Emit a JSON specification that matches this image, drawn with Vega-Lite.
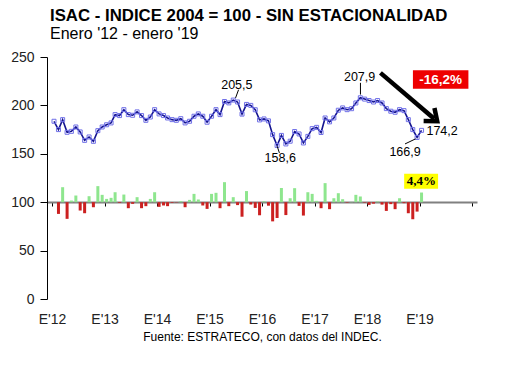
{
  "$schema": "https://vega.github.io/schema/vega-lite/v6.json",
  "width": 430,
  "height": 242,
  "autosize": {"type": "none"},
  "padding": {"left": 47, "top": 57, "right": 53, "bottom": 79},
  "background": "white",
  "config": {"view": {"stroke": null}, "font": "Liberation Sans"},
  "title": {
    "text": "ISAC - INDICE 2004 = 100 - SIN ESTACIONALIDAD",
    "subtitle": "Enero '12 - enero '19",
    "anchor": "start",
    "frame": "group",
    "dx": 3,
    "offset": 8,
    "font": "Liberation Sans",
    "fontSize": 16.8,
    "fontWeight": "bold",
    "color": "black",
    "subtitleFont": "Liberation Sans",
    "subtitleFontSize": 16,
    "subtitleColor": "black",
    "subtitlePadding": 1
  },
  "datasets": {
    "serie": [
      {"date": "2012-01-15", "v": 183.6}, {"date": "2012-02-15", "v": 175.0}, {"date": "2012-03-15", "v": 185.3}, {"date": "2012-04-15", "v": 172.2},
      {"date": "2012-05-15", "v": 173.2}, {"date": "2012-06-15", "v": 177.7}, {"date": "2012-07-15", "v": 172.6}, {"date": "2012-08-15", "v": 163.9},
      {"date": "2012-09-15", "v": 167.4}, {"date": "2012-10-15", "v": 162.9}, {"date": "2012-11-15", "v": 173.9}, {"date": "2012-12-15", "v": 177.7},
      {"date": "2013-01-15", "v": 180.0}, {"date": "2013-02-15", "v": 181.9}, {"date": "2013-03-15", "v": 190.5}, {"date": "2013-04-15", "v": 189.5},
      {"date": "2013-05-15", "v": 195.6}, {"date": "2013-06-15", "v": 190.5}, {"date": "2013-07-15", "v": 189.8}, {"date": "2013-08-15", "v": 193.3},
      {"date": "2013-09-15", "v": 189.5}, {"date": "2013-10-15", "v": 184.6}, {"date": "2013-11-15", "v": 188.0}, {"date": "2013-12-15", "v": 195.6},
      {"date": "2014-01-15", "v": 191.2}, {"date": "2014-02-15", "v": 189.5}, {"date": "2014-03-15", "v": 187.0}, {"date": "2014-04-15", "v": 185.3},
      {"date": "2014-05-15", "v": 184.6}, {"date": "2014-06-15", "v": 186.3}, {"date": "2014-07-15", "v": 181.9}, {"date": "2014-08-15", "v": 183.6},
      {"date": "2014-09-15", "v": 188.8}, {"date": "2014-10-15", "v": 191.2}, {"date": "2014-11-15", "v": 188.8}, {"date": "2014-12-15", "v": 182.6},
      {"date": "2015-01-15", "v": 188.8}, {"date": "2015-02-15", "v": 195.6}, {"date": "2015-03-15", "v": 190.5}, {"date": "2015-04-15", "v": 204.0},
      {"date": "2015-05-15", "v": 202.6}, {"date": "2015-06-15", "v": 205.5}, {"date": "2015-07-15", "v": 203.5}, {"date": "2015-08-15", "v": 191.0},
      {"date": "2015-09-15", "v": 201.0}, {"date": "2015-10-15", "v": 200.0}, {"date": "2015-11-15", "v": 195.5}, {"date": "2015-12-15", "v": 185.0},
      {"date": "2016-01-15", "v": 186.0}, {"date": "2016-02-15", "v": 184.0}, {"date": "2016-03-15", "v": 169.8}, {"date": "2016-04-15", "v": 158.6},
      {"date": "2016-05-15", "v": 169.0}, {"date": "2016-06-15", "v": 160.2}, {"date": "2016-07-15", "v": 163.0}, {"date": "2016-08-15", "v": 173.0},
      {"date": "2016-09-15", "v": 170.5}, {"date": "2016-10-15", "v": 161.2}, {"date": "2016-11-15", "v": 168.0}, {"date": "2016-12-15", "v": 176.0},
      {"date": "2017-01-15", "v": 177.3}, {"date": "2017-02-15", "v": 172.0}, {"date": "2017-03-15", "v": 187.0}, {"date": "2017-04-15", "v": 183.0},
      {"date": "2017-05-15", "v": 187.0}, {"date": "2017-06-15", "v": 195.0}, {"date": "2017-07-15", "v": 197.4}, {"date": "2017-08-15", "v": 195.6},
      {"date": "2017-09-15", "v": 196.6}, {"date": "2017-10-15", "v": 202.5}, {"date": "2017-11-15", "v": 207.9}, {"date": "2017-12-15", "v": 206.5},
      {"date": "2018-01-15", "v": 205.0}, {"date": "2018-02-15", "v": 203.5}, {"date": "2018-03-15", "v": 205.0}, {"date": "2018-04-15", "v": 202.5},
      {"date": "2018-05-15", "v": 196.7}, {"date": "2018-06-15", "v": 194.0}, {"date": "2018-07-15", "v": 192.9}, {"date": "2018-08-15", "v": 195.6},
      {"date": "2018-09-15", "v": 194.6}, {"date": "2018-10-15", "v": 185.3}, {"date": "2018-11-15", "v": 175.0}, {"date": "2018-12-15", "v": 166.9},
      {"date": "2019-01-15", "v": 174.2}
    ],
    "barras": [
      {"date": "2012-02-15", "b": 87.9}, {"date": "2012-03-15", "b": 115.5}, {"date": "2012-04-15", "b": 82.8}, {"date": "2012-05-15", "b": 101.7},
      {"date": "2012-06-15", "b": 106.9}, {"date": "2012-07-15", "b": 91.4}, {"date": "2012-08-15", "b": 88.6}, {"date": "2012-09-15", "b": 106.2},
      {"date": "2012-10-15", "b": 94.8}, {"date": "2012-11-15", "b": 116.6}, {"date": "2012-12-15", "b": 107.6},
      {"date": "2013-01-15", "b": 103.4}, {"date": "2013-02-15", "b": 104.5}, {"date": "2013-03-15", "b": 110.3}, {"date": "2013-04-15", "b": 99.3},
      {"date": "2013-05-15", "b": 107.9}, {"date": "2013-06-15", "b": 93.8}, {"date": "2013-07-15", "b": 98.3}, {"date": "2013-08-15", "b": 105.2},
      {"date": "2013-09-15", "b": 93.8}, {"date": "2013-10-15", "b": 95.9}, {"date": "2013-11-15", "b": 103.4}, {"date": "2013-12-15", "b": 110.3},
      {"date": "2014-01-15", "b": 95.2}, {"date": "2014-02-15", "b": 96.6}, {"date": "2014-03-15", "b": 95.9}, {"date": "2014-04-15", "b": 99.3},
      {"date": "2014-05-15", "b": 99.7}, {"date": "2014-06-15", "b": 101.0}, {"date": "2014-07-15", "b": 94.8}, {"date": "2014-08-15", "b": 102.4},
      {"date": "2014-09-15", "b": 108.6}, {"date": "2014-10-15", "b": 102.8}, {"date": "2014-11-15", "b": 96.6}, {"date": "2014-12-15", "b": 93.1},
      {"date": "2015-01-15", "b": 108.6}, {"date": "2015-02-15", "b": 109.7}, {"date": "2015-03-15", "b": 93.8}, {"date": "2015-04-15", "b": 120.7},
      {"date": "2015-05-15", "b": 95.9}, {"date": "2015-06-15", "b": 105.2}, {"date": "2015-07-15", "b": 97.0}, {"date": "2015-08-15", "b": 85.0},
      {"date": "2015-09-15", "b": 111.5}, {"date": "2015-10-15", "b": 97.6}, {"date": "2015-11-15", "b": 94.1}, {"date": "2015-12-15", "b": 86.5},
      {"date": "2016-01-15", "b": 101.0}, {"date": "2016-02-15", "b": 96.4}, {"date": "2016-03-15", "b": 80.2}, {"date": "2016-04-15", "b": 83.7},
      {"date": "2016-05-15", "b": 114.7}, {"date": "2016-06-15", "b": 86.7}, {"date": "2016-07-15", "b": 104.1}, {"date": "2016-08-15", "b": 114.5},
      {"date": "2016-09-15", "b": 96.2}, {"date": "2016-10-15", "b": 86.2}, {"date": "2016-11-15", "b": 110.3}, {"date": "2016-12-15", "b": 108.6},
      {"date": "2017-01-15", "b": 101.4}, {"date": "2017-02-15", "b": 93.8}, {"date": "2017-03-15", "b": 119.7}, {"date": "2017-04-15", "b": 92.8},
      {"date": "2017-05-15", "b": 104.1}, {"date": "2017-06-15", "b": 109.3}, {"date": "2017-07-15", "b": 103.1}, {"date": "2017-08-15", "b": 99.5},
      {"date": "2017-09-15", "b": 100.3}, {"date": "2017-10-15", "b": 107.6}, {"date": "2017-11-15", "b": 105.9}, {"date": "2017-12-15", "b": 99.5},
      {"date": "2018-01-15", "b": 97.2}, {"date": "2018-02-15", "b": 98.5}, {"date": "2018-03-15", "b": 100.8}, {"date": "2018-04-15", "b": 97.5},
      {"date": "2018-05-15", "b": 91.0}, {"date": "2018-06-15", "b": 98.0}, {"date": "2018-07-15", "b": 92.8}, {"date": "2018-08-15", "b": 104.1},
      {"date": "2018-09-15", "b": 99.0}, {"date": "2018-10-15", "b": 88.6}, {"date": "2018-11-15", "b": 82.4}, {"date": "2018-12-15", "b": 90.3},
      {"date": "2019-01-15", "b": 110.0}
    ],
    "etiquetas": [
      {"date": "2015-07-10", "v": 221.5, "label": "205,5"},
      {"date": "2016-05-07", "v": 145.7, "label": "158,6"},
      {"date": "2017-11-10", "v": 229.6, "label": "207,9"},
      {"date": "2018-09-22", "v": 151.7, "label": "166,9"},
      {"date": "2019-06-07", "v": 174.0, "label": "174,2"}
    ],
    "guias": [
      {"date": "2015-07-01", "v": 207.7, "date2": "2015-07-22", "v2": 216.2},
      {"date": "2016-04-16", "v": 157.7, "date2": "2016-05-01", "v2": 150.9},
      {"date": "2017-11-16", "v": 211.2, "date2": "2017-11-16", "v2": 223.3},
      {"date": "2018-09-22", "v": 160.2, "date2": "2018-12-04", "v2": 165.4}
    ],
    "flecha": [
      {"date": "2018-04-04", "v": 233.6, "date2": "2019-04-13", "v2": 186.2}
    ],
    "punta": [
      {"date": "2019-05-04", "v": 183.6}
    ],
    "caja_roja": [
      {"date": "2018-11-16", "v": 236.3, "date2": "2019-12-07", "v2": 217.1, "cdate": "2019-05-28", "cv": 226.7, "label": "-16,2%"}
    ],
    "caja_amarilla": [
      {"date": "2018-09-16", "v": 129.5, "date2": "2019-05-10", "v2": 114.0, "cdate": "2019-01-13", "cv": 121.7, "label": "4,4%"}
    ]
  },
  "layer": [
    {
      "data": {"name": "barras"},
      "mark": {"type": "bar", "size": 3},
      "encoding": {
        "x": {
          "field": "date", "type": "temporal",
          "scale": {"type": "utc", "domain": [{"year": 2012, "month": 1, "date": 1, "utc": true}, {"year": 2020, "month": 1, "date": 1, "utc": true}]},
          "axis": {
            "orient": "bottom",
            "domain": false,
            "ticks": false,
            "grid": false,
            "values": [
              {"year": 2012, "month": 1, "date": 1, "utc": true}, {"year": 2013, "month": 1, "date": 1, "utc": true},
              {"year": 2014, "month": 1, "date": 1, "utc": true}, {"year": 2015, "month": 1, "date": 1, "utc": true},
              {"year": 2016, "month": 1, "date": 1, "utc": true}, {"year": 2017, "month": 1, "date": 1, "utc": true},
              {"year": 2018, "month": 1, "date": 1, "utc": true}, {"year": 2019, "month": 1, "date": 1, "utc": true}
            ],
            "labelExpr": "\"E'\" + utcFormat(datum.value, '%y')",
            "labelFont": "Liberation Sans",
            "labelFontSize": 14,
            "labelColor": "#222222",
            "labelPadding": 13,
            "labelFlush": false,
            "labelOverlap": false,
            "title": "Fuente: ESTRATECO, con datos del INDEC.",
            "titleFont": "Liberation Sans",
            "titleFontSize": 12,
            "titleFontWeight": "normal",
            "titleColor": "black",
            "titlePadding": 5
          }
        },
        "y": {
          "field": "b", "type": "quantitative",
          "scale": {"domain": [0, 250]},
          "axis": {
            "values": [0, 50, 100, 150, 200, 250],
            "grid": false,
            "domainColor": "black",
            "tickColor": "black",
            "tickSize": 7,
            "labelPadding": 6,
            "labelFont": "Liberation Sans",
            "labelFontSize": 14,
            "labelColor": "#222222",
            "title": null
          }
        },
        "y2": {"datum": 100},
        "color": {
          "condition": {"test": "datum.b >= 100", "value": "#8ee68e"},
          "value": "#cc2020"
        }
      }
    },
    {
      "data": {"name": "serie"},
      "mark": {"type": "line", "color": "#14148f", "strokeWidth": 1.6},
      "encoding": {
        "x": {
          "field": "date", "type": "temporal",
          "scale": {"type": "utc", "domain": [{"year": 2012, "month": 1, "date": 1, "utc": true}, {"year": 2020, "month": 1, "date": 1, "utc": true}]},
          "axis": {
            "orient": "bottom",
            "offset": -97,
            "domain": true,
            "domainColor": "#808080",
            "domainWidth": 2,
            "ticks": true,
            "tickColor": "black",
            "tickSize": 4,
            "labels": false,
            "grid": false,
            "title": null,
            "values": [
              {"year": 2012, "month": 1, "date": 1, "utc": true}, {"year": 2013, "month": 1, "date": 1, "utc": true},
              {"year": 2014, "month": 1, "date": 1, "utc": true}, {"year": 2015, "month": 1, "date": 1, "utc": true},
              {"year": 2016, "month": 1, "date": 1, "utc": true}, {"year": 2017, "month": 1, "date": 1, "utc": true},
              {"year": 2018, "month": 1, "date": 1, "utc": true}, {"year": 2019, "month": 1, "date": 1, "utc": true},
              {"year": 2020, "month": 1, "date": 1, "utc": true}
            ]
          }
        },
        "y": {"field": "v", "type": "quantitative", "scale": {"domain": [0, 250]}, "axis": null}
      }
    },
    {
      "data": {"name": "serie"},
      "mark": {"type": "point", "shape": "square", "size": 16, "filled": false, "stroke": "#7070e8", "strokeWidth": 1, "opacity": 1},
      "encoding": {
        "x": {"field": "date", "type": "temporal", "scale": {"type": "utc", "domain": [{"year": 2012, "month": 1, "date": 1, "utc": true}, {"year": 2020, "month": 1, "date": 1, "utc": true}]}, "axis": null},
        "y": {"field": "v", "type": "quantitative", "scale": {"domain": [0, 250]}, "axis": null}
      }
    },
    {
      "data": {"name": "guias"},
      "mark": {"type": "rule", "color": "black", "strokeWidth": 1},
      "encoding": {
        "x": {"field": "date", "type": "temporal", "scale": {"type": "utc", "domain": [{"year": 2012, "month": 1, "date": 1, "utc": true}, {"year": 2020, "month": 1, "date": 1, "utc": true}]}, "axis": null},
        "x2": {"field": "date2"},
        "y": {"field": "v", "type": "quantitative", "scale": {"domain": [0, 250]}, "axis": null},
        "y2": {"field": "v2"}
      }
    },
    {
      "data": {"name": "flecha"},
      "mark": {"type": "rule", "color": "black", "strokeWidth": 4.5},
      "encoding": {
        "x": {"field": "date", "type": "temporal", "scale": {"type": "utc", "domain": [{"year": 2012, "month": 1, "date": 1, "utc": true}, {"year": 2020, "month": 1, "date": 1, "utc": true}]}, "axis": null},
        "x2": {"field": "date2"},
        "y": {"field": "v", "type": "quantitative", "scale": {"domain": [0, 250]}, "axis": null},
        "y2": {"field": "v2"}
      }
    },
    {
      "data": {"name": "punta"},
      "mark": {"type": "point", "shape": "M-1,-0.8L0,0L-1,0.8", "filled": false, "stroke": "black", "strokeWidth": 4.5, "strokeJoin": "miter", "size": 450, "angle": 39.6, "opacity": 1},
      "encoding": {
        "x": {"field": "date", "type": "temporal", "scale": {"type": "utc", "domain": [{"year": 2012, "month": 1, "date": 1, "utc": true}, {"year": 2020, "month": 1, "date": 1, "utc": true}]}, "axis": null},
        "y": {"field": "v", "type": "quantitative", "scale": {"domain": [0, 250]}, "axis": null}
      }
    },
    {
      "data": {"name": "caja_roja"},
      "mark": {"type": "rect", "color": "#ee0000"},
      "encoding": {
        "x": {"field": "date", "type": "temporal", "scale": {"type": "utc", "domain": [{"year": 2012, "month": 1, "date": 1, "utc": true}, {"year": 2020, "month": 1, "date": 1, "utc": true}]}, "axis": null},
        "x2": {"field": "date2"},
        "y": {"field": "v", "type": "quantitative", "scale": {"domain": [0, 250]}, "axis": null},
        "y2": {"field": "v2"}
      }
    },
    {
      "data": {"name": "caja_roja"},
      "mark": {"type": "text", "color": "white", "font": "Liberation Sans", "fontSize": 13.5, "fontWeight": "bold", "align": "center", "baseline": "middle"},
      "encoding": {
        "x": {"field": "cdate", "type": "temporal", "scale": {"type": "utc", "domain": [{"year": 2012, "month": 1, "date": 1, "utc": true}, {"year": 2020, "month": 1, "date": 1, "utc": true}]}, "axis": null},
        "y": {"field": "cv", "type": "quantitative", "scale": {"domain": [0, 250]}, "axis": null},
        "text": {"field": "label"}
      }
    },
    {
      "data": {"name": "caja_amarilla"},
      "mark": {"type": "rect", "color": "#ffff00"},
      "encoding": {
        "x": {"field": "date", "type": "temporal", "scale": {"type": "utc", "domain": [{"year": 2012, "month": 1, "date": 1, "utc": true}, {"year": 2020, "month": 1, "date": 1, "utc": true}]}, "axis": null},
        "x2": {"field": "date2"},
        "y": {"field": "v", "type": "quantitative", "scale": {"domain": [0, 250]}, "axis": null},
        "y2": {"field": "v2"}
      }
    },
    {
      "data": {"name": "caja_amarilla"},
      "mark": {"type": "text", "color": "black", "font": "Liberation Serif", "fontSize": 13, "fontWeight": "bold", "align": "center", "baseline": "middle"},
      "encoding": {
        "x": {"field": "cdate", "type": "temporal", "scale": {"type": "utc", "domain": [{"year": 2012, "month": 1, "date": 1, "utc": true}, {"year": 2020, "month": 1, "date": 1, "utc": true}]}, "axis": null},
        "y": {"field": "cv", "type": "quantitative", "scale": {"domain": [0, 250]}, "axis": null},
        "text": {"field": "label"}
      }
    },
    {
      "data": {"name": "etiquetas"},
      "mark": {"type": "text", "color": "black", "font": "Liberation Sans", "fontSize": 12.5, "align": "center", "baseline": "middle"},
      "encoding": {
        "x": {"field": "date", "type": "temporal", "scale": {"type": "utc", "domain": [{"year": 2012, "month": 1, "date": 1, "utc": true}, {"year": 2020, "month": 1, "date": 1, "utc": true}]}, "axis": null},
        "y": {"field": "v", "type": "quantitative", "scale": {"domain": [0, 250]}, "axis": null},
        "text": {"field": "label"}
      }
    }
  ],
  "resolve": {"axis": {"x": "independent", "y": "independent"}}
}
